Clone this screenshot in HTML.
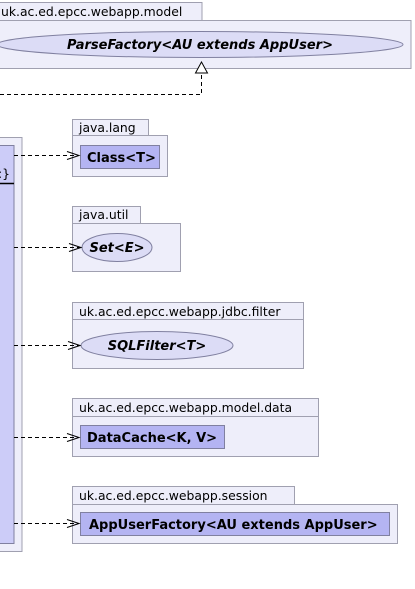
<!DOCTYPE html>
<html><head><style>body{margin:0;background:#fff}svg{display:block}text{font-family:"DejaVu Sans","Liberation Sans",sans-serif;font-size:12.4px;fill:#000}.b{font-size:13px;font-weight:bold}</style></head>
<body>
<svg width="415" height="589" viewBox="0 0 415 589" xmlns="http://www.w3.org/2000/svg">
<g stroke="#a0a0b0" stroke-width="1" fill="#eeeefa">
<rect x="-1" y="2.5" width="203" height="18"/>
<rect x="-1" y="20.5" width="412" height="48"/>
<rect x="-1" y="137.5" width="23" height="414"/>
<rect x="72.5" y="119.5" width="76" height="16"/>
<rect x="72.5" y="135.5" width="95" height="41"/>
<rect x="72.5" y="206.5" width="68" height="17"/>
<rect x="72.5" y="223.5" width="108" height="48"/>
<rect x="72.5" y="302.5" width="231" height="17"/>
<rect x="72.5" y="319.5" width="231" height="49"/>
<rect x="72.5" y="398.5" width="246" height="18"/>
<rect x="72.5" y="416.5" width="246" height="40"/>
<rect x="72.5" y="486.5" width="222" height="18"/>
<rect x="72.5" y="504.5" width="325" height="39"/>
</g>
<g stroke="#8080a0" stroke-width="1">
<ellipse cx="200" cy="44.5" rx="203" ry="13" fill="#dcdcf6"/>
<rect x="-1" y="145.5" width="15" height="398" fill="#ccccf8"/>
<rect x="80.5" y="145.5" width="79" height="23" fill="#b4b4f2"/>
<ellipse cx="117" cy="247.5" rx="35" ry="14" fill="#dcdcf6"/>
<ellipse cx="157" cy="345.5" rx="76" ry="14" fill="#dcdcf6"/>
<rect x="80.5" y="425.5" width="144" height="23" fill="#b4b4f2"/>
<rect x="80.5" y="512.5" width="309" height="23" fill="#b4b4f2"/>
</g>
<line x1="-1" y1="183.5" x2="14" y2="183.5" stroke="#000" stroke-width="1.5"/>
<text x="-2" y="178">:}</text>
<text x="1" y="16">uk.ac.ed.epcc.webapp.model</text>
<text x="79" y="132">java.lang</text>
<text x="79" y="219">java.util</text>
<text x="79" y="316">uk.ac.ed.epcc.webapp.jdbc.filter</text>
<text x="79" y="412">uk.ac.ed.epcc.webapp.model.data</text>
<text x="79" y="500">uk.ac.ed.epcc.webapp.session</text>
<text class="b" x="200" y="49" text-anchor="middle" font-style="italic">ParseFactory&lt;AU extends AppUser&gt;</text>
<text class="b" x="87" y="162">Class&lt;T&gt;</text>
<text class="b" x="117" y="252" text-anchor="middle" font-style="italic">Set&lt;E&gt;</text>
<text class="b" x="157" y="350" text-anchor="middle" font-style="italic">SQLFilter&lt;T&gt;</text>
<text class="b" x="87" y="442">DataCache&lt;K, V&gt;</text>
<text class="b" x="89" y="529">AppUserFactory&lt;AU extends AppUser&gt;</text>
<g stroke="#000" stroke-width="1" fill="none" stroke-dasharray="4,3">
<polyline points="0,94.5 201.5,94.5 201.5,73"/>
<line x1="14" y1="155.5" x2="79" y2="155.5"/>
<line x1="14" y1="247.5" x2="81" y2="247.5"/>
<line x1="14" y1="345.5" x2="80" y2="345.5"/>
<line x1="14" y1="437.5" x2="79" y2="437.5"/>
<line x1="14" y1="523.5" x2="79" y2="523.5"/>
</g>
<polygon points="201.5,62 195.5,73 207.5,73" fill="#fff" stroke="#000"/>
<g stroke="#000" fill="none">
<polyline points="67,151.5 79,155.5 67,159.5"/>
<polyline points="69,243.5 81,247.5 69,251.5"/>
<polyline points="68,341.5 80,345.5 68,349.5"/>
<polyline points="67,433.5 79,437.5 67,441.5"/>
<polyline points="67,519.5 79,523.5 67,527.5"/>
</g>
</svg>
</body></html>
